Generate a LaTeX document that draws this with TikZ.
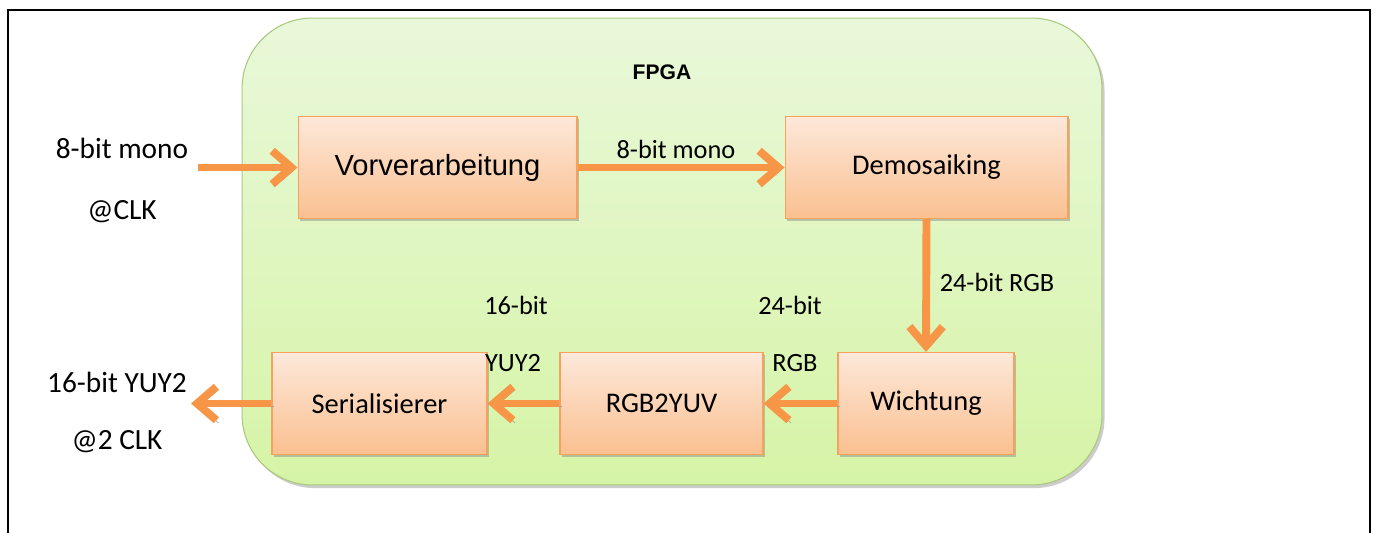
\documentclass[tikz,border=0pt]{standalone}
\usepackage{fontspec}
\setmainfont{Carlito}
\newfontfamily\arialfont{Liberation Sans}
\usetikzlibrary{arrows.meta}
\usetikzlibrary{shadows}
\usetikzlibrary{positioning}
\definecolor{flowor}{HTML}{F79646}
\definecolor{boxtop}{HTML}{FDE8DA}
\definecolor{boxbot}{HTML}{FAC090}
\definecolor{boxline}{HTML}{F5A35C}
\definecolor{fpgatop}{HTML}{E9F8DA}
\definecolor{fpgabot}{HTML}{D6F4A6}
\definecolor{fpgaline}{HTML}{A9C97C}

\begin{document}
\begin{tikzpicture}[x=0.02cm, y=-0.02cm, % 1 Einheit = 1 Pixel
  block/.style={draw=boxline, line width=0.6pt, top color=boxtop, bottom color=boxbot,
    minimum height=2.04cm, font=\fontsize{16.2}{19}\selectfont,
    drop shadow={shadow xshift=1.2pt, shadow yshift=-1.5pt, fill=black!45}},
  flow/.style={draw=flowor, line width=4.5pt, -{Straight Barb[length=11pt,width=19pt]},
    preaction={draw=black!35, transform canvas={shift={(1.2pt,-1.6pt)}}}},
  lbl/.style={font=\fontsize{15}{18}\selectfont},
  side/.style={font=\fontsize{16.7}{20}\selectfont}]
\useasboundingbox (0,0) rectangle (1377,533);
% Rahmen
\draw[line width=1.1pt] (8,540) -- (8,10) -- (1370,10) -- (1370,540);
% FPGA
\node[draw=fpgaline, line width=0.6pt, rounded corners=40pt, top color=fpgatop, bottom color=fpgabot,
  minimum width=17.2cm, minimum height=9.34cm,
  drop shadow={shadow xshift=1.5pt, shadow yshift=-1.8pt, fill=black!40}] (fpga) at (672,251.5) {};
\node[font=\arialfont\bfseries\fontsize{12}{14}\selectfont] (title) at (662,72) {FPGA};
% Bloecke
\node[block, minimum width=5.58cm, font=\arialfont\fontsize{16.6}{19}\selectfont] (vor) at (437.5,167.5) {Vorverarbeitung};
\node[block, minimum width=5.66cm] (demo) at (926.5,167.5) {Demosaiking};
\node[block, minimum width=3.52cm] (wicht) at (926,403.5) {Wichtung};
\node[block, minimum width=4.06cm] (rgbyuv) at (661.5,403.5) {RGB2YUV};
\node[block, minimum width=4.3cm] (ser) at (379.5,403.5) {Serialisierer};
% Verbindungen
\coordinate (in) at (198,167.5);
\coordinate (out) at (191,403.5);
\draw[flow] (in) -- (vor.west);
\draw[flow] (vor.east) -- (demo.west);
\draw[flow] (demo.south) -- (wicht.north);
\draw[flow] (wicht.west) -- (rgbyuv.east);
\draw[flow] (rgbyuv.west) -- (ser.east);
\draw[flow] (ser.west) -- (out);
% Beschriftungen
\node[side] (inbits) at (122,148) {8-bit mono};
\node[side] (inclk) at (122,212) {@CLK};
\node[lbl] (vdbits) at (676,149) {8-bit mono};
\node[lbl] (dwbits) at (997,282) {24-bit RGB};
\node[lbl] (wrbits) at (790,305) {24-bit};
\node[lbl] (wrfmt) at (795,363) {RGB};
\node[lbl] (rsbits) at (516,305) {16-bit};
\node[lbl] (rsfmt) at (513,363) {YUY2};
\node[side] (outbits) at (117,382) {16-bit YUY2};
\node[side] (outclk) at (117,442) {@2 CLK};
\end{tikzpicture}
\end{document}
